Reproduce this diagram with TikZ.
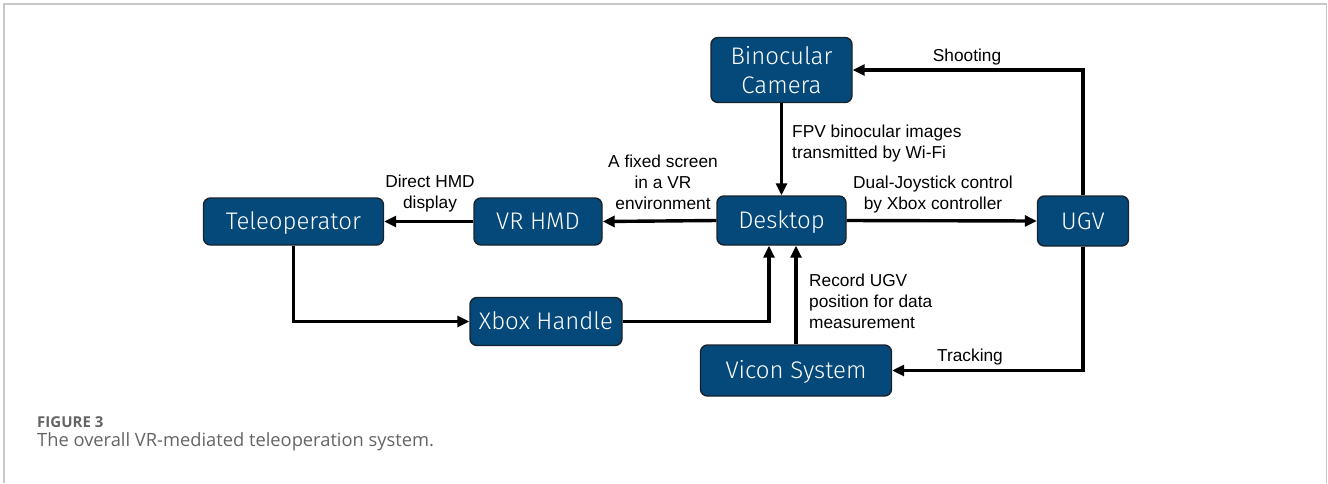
\documentclass[tikz,border=0pt]{standalone}
\usepackage{fontspec}
\setmainfont{Liberation Sans}
\newfontfamily\boxfont{Fira Sans Light}
\newfontfamily\capfont{Open Sans}
\usetikzlibrary{arrows.meta,calc}
\definecolor{boxblue}{RGB}{4,73,122}
\definecolor{boxedge}{RGB}{25,35,45}
\definecolor{framegray}{RGB}{200,200,200}
\definecolor{capgray}{RGB}{100,100,100}
\begin{document}
\begin{tikzpicture}[x=1pt,y=-1pt,
  box/.style={draw=boxedge, line width=1.4pt, fill=boxblue, rounded corners=7pt,
    text=white, font=\boxfont\fontsize{24}{28.5}\selectfont, inner sep=0pt, align=center},
  oneline/.style={text height=16.5pt, text depth=0pt},
  lab/.style={font=\fontsize{17.3}{21}\selectfont, inner sep=0pt},
  conn/.style={line width=3.4pt, -{Triangle[length=12pt,width=11pt]}}]
\useasboundingbox (0,0) rectangle (1328,483);
% frame
\draw[framegray, line width=1.5pt] (4,483) -- (4,4) -- (1326.5,4) -- (1326.5,483);
% nodes
\node[box, minimum width=141pt, minimum height=65pt] (cam) at (781.5,70) {Binocular\\Camera};
\node[box, oneline, minimum width=180pt, minimum height=47pt] (tele) at (293.5,221.5) {Teleoperator};
\node[box, oneline, minimum width=128pt, minimum height=47pt] (hmd) at (538,221.5) {VR HMD};
\node[box, oneline, minimum width=129pt, minimum height=49pt] (desk) at (781.5,220.5) {Desktop};
\node[box, oneline, minimum width=91pt, minimum height=50pt] (ugv) at (1083,221) {UGV};
\node[box, oneline, minimum width=152pt, minimum height=48pt] (xbox) at (546,321.5) {Xbox Handle};
\node[box, oneline, minimum width=191pt, minimum height=51pt] (vicon) at (796,370.5) {Vicon System};
% connectors
\draw[conn] (cam.south) -- (desk.north);
\draw[conn] (ugv.north) |- (cam.east);
\draw[conn] (desk.east) -- (ugv.west);
\draw[conn] (desk.west) -- (hmd.east);
\draw[conn] (hmd.west) -- (tele.east);
\draw[conn] (tele.south) |- (xbox.west);
\draw[conn] (xbox.east) -| ($(desk.south)+(-12.5,0)$);
\draw[conn] (vicon.north) -- (vicon.north |- desk.south);
\draw[conn] (ugv.south) |- (vicon.east);
% labels
\node[lab] (lshoot) at (967,57) {Shooting};
\node[lab, anchor=west, align=left] (lfpv) at (792,144) {FPV binocular images\\transmitted by Wi-Fi};
\node[lab, align=center] (lfix) at (663,182) {A fixed screen\\in a VR\\environment};
\node[lab, align=center] (lhmd) at (430,194) {Direct HMD\\display};
\node[lab, align=center] (ldual) at (933,195) {Dual-Joystick control\\by Xbox controller};
\node[lab, anchor=west, align=left] (lrec) at (809,301) {Record UGV\\position for data\\measurement};
\node[lab] (ltrack) at (970,357) {Tracking};
% caption
\node[anchor=base west, inner sep=0pt, text=capgray, font=\capfont\bfseries\fontsize{15}{17}\selectfont] (fig) at (37,427) {FIGURE 3};
\node[anchor=base west, inner sep=0pt, text=capgray, font=\capfont\fontsize{18.3}{21}\selectfont] (cap) at (37,446.5) {The overall VR-mediated teleoperation system.};
\end{tikzpicture}
\end{document}
